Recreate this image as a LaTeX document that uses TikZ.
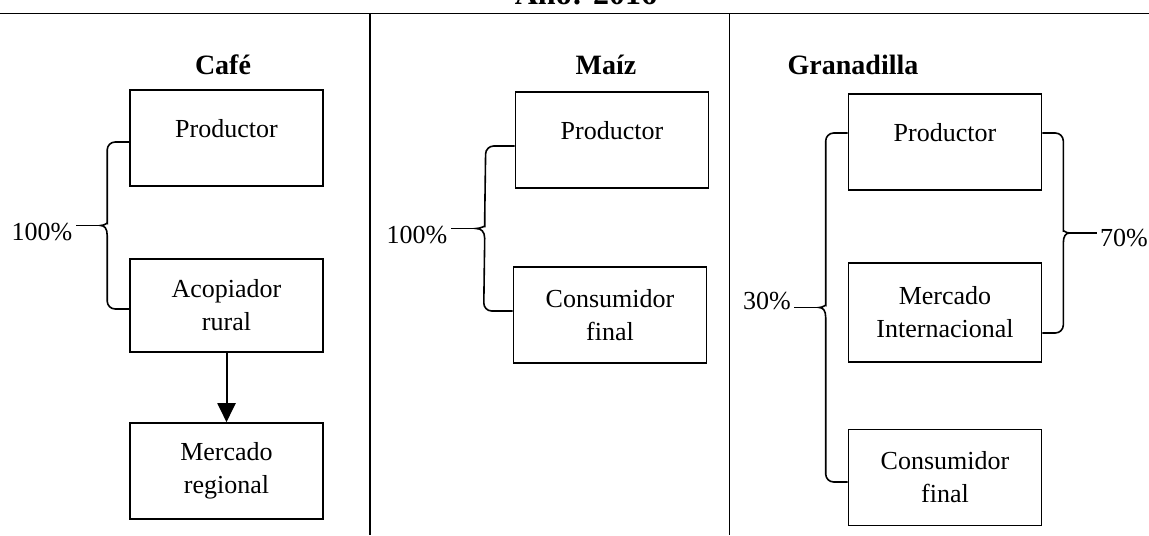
\documentclass[tikz,border=0pt]{standalone}
\usepackage{fontspec}
\setmainfont{Liberation Serif}
\usetikzlibrary{calc,arrows.meta}

% llave: #1 arriba, #2 abajo, #3 brazo (px, con signo), #4 punto de la etiqueta
\newcommand{\llave}[4]{%
	\coordinate (ll1) at ($(#1)+(#3,0)$);
	\coordinate (ll2) at ($(#2)+(#3,0)$);
	\coordinate (llm) at ($(ll1)!.5!(ll2)$);
	\draw[llave] (#1) -- (ll1) -- ($(llm)+(0,-10)$) [sharp corners]
		.. controls ($(llm)+(0,-3)$) and ($(llm)+({0.12*#3},0)$) .. ($(llm)+({0.3*#3},0)$) coordinate (llt)
		.. controls ($(llm)+({0.12*#3},0)$) and ($(llm)+(0,3)$) .. ($(llm)+(0,10)$) [rounded corners=4pt]
		-- (ll2) -- (#2);
	\draw[llave] (llt) -- (llt -| #4);
}

\begin{document}
\begin{tikzpicture}[x=0.5pt,y=-0.5pt,
		caja/.style={draw,line width=0.8pt,minimum width=96.5pt,minimum height=48pt,inner sep=0pt,align=center,font=\fontsize{13}{16.5}\selectfont},
		prod/.style={caja,text depth=10pt},
		titulo/.style={font=\fontsize{14}{16}\selectfont\bfseries},
		pct/.style={font=\fontsize{13}{16}\selectfont,inner sep=1.5pt},
		linea/.style={line width=0.8pt},
		llave/.style={line width=0.8pt,rounded corners=4pt},
		flecha/.style={line width=1pt,-{Triangle[length=9.5pt,width=9pt]}}]
	\useasboundingbox (0,0) rectangle (1149,535);
	% cuadro
	\node[font=\fontsize{16}{18}\selectfont\bfseries,anchor=base] (anio) at (586,5) {Año: 2016};
	\draw[linea] (0,13.5) -- (1149,13.5);
	\draw[linea] (370,13.5) -- (370,535);
	\draw[linea] (729.5,13.5) -- (729.5,535);
	% cafe
	\node[titulo] (tC) at (223,65) {Café};
	\node[prod] (prodC) at (226.5,138) {Productor};
	\node[caja,minimum height=46.5pt] (acoC) at (226.5,305.5) {Acopiador\\rural};
	\node[caja] (merC) at (226.5,471) {Mercado\\regional};
	\draw[flecha] (acoC) -- (merC);
	\node[pct] (pcC) at (42,232) {100\%};
	\coordinate (cC1) at ([yshift=-2pt]prodC.west);
	\coordinate (cC2) at ([yshift=-1.75pt]acoC.west);
	\llave{cC1}{cC2}{-22}{pcC.east}
	% maiz
	\node[titulo] (tM) at (606,65) {Maíz};
	\node[prod] (prodM) at (612,140) {Productor};
	\node[caja] (conM) at (610,315) {Consumidor\\final};
	\node[pct] (pcM) at (417,235) {100\%};
	\coordinate (cM1) at ([yshift=-3pt]prodM.west);
	\coordinate (cM2) at ([yshift=2pt]conM.west);
	\llave{cM1}{cM2}{-29}{pcM.east}
	% granadilla
	\node[titulo] (tG) at (853,65) {Granadilla};
	\node[prod] (prodG) at (945,142) {Productor};
	\node[caja,minimum height=49.5pt] (merG) at (945,312.5) {Mercado\\Internacional};
	\node[caja] (conG) at (945,477.5) {Consumidor\\final};
	\node[pct] (pcG1) at (767,301) {30\%};
	\node[pct] (pcG2) at (1124,238) {70\%};
	\coordinate (cG1) at ([yshift=4.5pt]prodG.west);
	\coordinate (cG2) at ([yshift=-2.25pt]conG.west);
	\llave{cG1}{cG2}{-22}{pcG1.east}
	\coordinate (cG3) at ([yshift=4.5pt]prodG.east);
	\coordinate (cG4) at ([yshift=-10.25pt]merG.east);
	\llave{cG3}{cG4}{21}{pcG2.west}
\end{tikzpicture}
\end{document}
